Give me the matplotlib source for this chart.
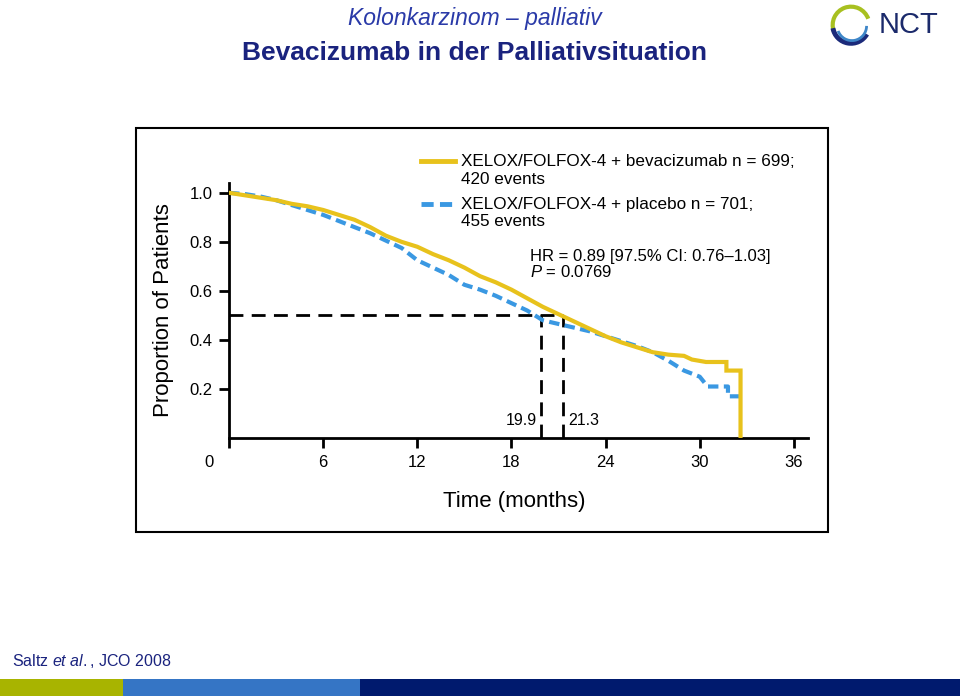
import matplotlib
matplotlib.use("Agg")
import matplotlib.pyplot as plt
from matplotlib.patches import Rectangle, Arc
from matplotlib.lines import Line2D
from matplotlib.transforms import ScaledTranslation

# Kaplan-Meier readings (months, proportion)
bev_t = [0, 1, 2, 3, 4, 5, 6, 7, 8, 9, 10, 11, 12, 13, 14, 15, 16, 17, 18, 19, 20, 21,
         22, 23, 24, 25, 26, 27, 28, 29, 29.5, 30.4, 31.7, 31.7, 32.6, 32.6]
bev_p = [1.0, 0.99, 0.98, 0.97, 0.955, 0.945, 0.93, 0.91, 0.89, 0.86, 0.825, 0.80, 0.78,
         0.75, 0.725, 0.695, 0.66, 0.635, 0.605, 0.57, 0.535, 0.505,
         0.475, 0.445, 0.415, 0.39, 0.37, 0.35, 0.34, 0.335, 0.32, 0.31, 0.31, 0.275, 0.275, 0.0]
pla_t = [0, 1, 2, 3, 4, 5, 6, 7, 8, 9, 10, 11, 12, 13, 14, 15, 16, 17, 18, 19, 20, 21,
         22, 23, 24, 25, 26, 27, 28, 29, 30, 30.5, 31.8, 31.8, 32.9]
pla_p = [1.0, 0.995, 0.985, 0.97, 0.95, 0.93, 0.91, 0.885, 0.86, 0.835, 0.805, 0.775, 0.725,
         0.695, 0.665, 0.625, 0.605, 0.58, 0.55, 0.52, 0.48, 0.465,
         0.45, 0.435, 0.415, 0.395, 0.375, 0.35, 0.315, 0.275, 0.25, 0.21, 0.21, 0.17, 0.17]
medians = [19.9, 21.3]
xticks = [0, 6, 12, 18, 24, 30, 36]
yticks = [0.2, 0.4, 0.6, 0.8, 1.0]

YELLOW = "#E8C21C"
BLUE = "#3A98E2"
NAVY = "#1A237E"

plt.rcParams["font.family"] = ["Liberation Sans", "DejaVu Sans"]
plt.rcParams["mathtext.fontset"] = "custom"
plt.rcParams["mathtext.rm"] = "Liberation Sans"
plt.rcParams["mathtext.it"] = "Liberation Sans:italic"

fig = plt.figure(figsize=(9.6, 6.96), dpi=100)
W, H = 960, 696


def fx(px):
    return px / W


def fy(py):
    return 1 - py / H


# header
fig.text(fx(475), fy(18), "Kolonkarzinom – palliativ", ha="center", va="center",
         fontsize=16.5, style="italic", color="#2A3AA8")
fig.text(fx(474), fy(53), "Bevacizumab in der Palliativsituation", ha="center", va="center",
         fontsize=19, weight="bold", color=NAVY)

# NCT logo
lax = fig.add_axes([fx(828), fy(47), fx(46), 44 / H])
lax.set_xlim(-1.2, 1.2)
lax.set_ylim(-1.2, 1.2)
lax.set_aspect("equal")
lax.axis("off")
lax.add_patch(Arc((0, 0), 2.0, 2.0, theta1=20, theta2=200, color="#A8C020", lw=3))
lax.add_patch(Arc((0, 0), 2.0, 2.0, theta1=190, theta2=330, color="#1B2A7A", lw=3.5))
lax.add_patch(Arc((0.05, -0.05), 1.6, 1.6, theta1=200, theta2=360, color="#3E86C8", lw=2))
fig.text(fx(879), fy(25), "NCT", ha="left", va="center", fontsize=21, color="#1B2A6B")

# frame around chart
fig.add_artist(Rectangle((fx(136), fy(532)), fx(828 - 136), (532 - 128) / H,
                         transform=fig.transFigure, fill=False, ec="black", lw=1.5))

ax = fig.add_axes([fx(229), fy(438), fx(808 - 229), (438 - 183) / H])
ax.set_xlim(0, 36.9)
ax.set_ylim(0, 1.04)

ax.plot([0, medians[1]], [0.5, 0.5], color="black", lw=2, dashes=(5, 3), zorder=1)
for m in medians:
    ax.plot([m, m], [0, 0.5], color="black", lw=2, dashes=(5, 3), zorder=1)

ax.plot(bev_t, bev_p, color=YELLOW, lw=3, solid_joinstyle="miter", zorder=3)
ax.plot(pla_t, pla_p, color=BLUE, lw=3, dashes=(2.5, 1.3), zorder=2)

for s in ["top", "right"]:
    ax.spines[s].set_visible(False)
for s in ["left", "bottom"]:
    ax.spines[s].set_linewidth(2)
ax.set_xticks(xticks)
ax.set_yticks(yticks)
ax.set_yticklabels([f"{v:.1f}" for v in yticks])
ax.tick_params(length=7, width=2, labelsize=12, pad=5)
lbl0 = ax.get_xticklabels()[0]
lbl0.set_transform(lbl0.get_transform() + ScaledTranslation(-0.2, 0, fig.dpi_scale_trans))

fig.text(fx(163), fy(310), "Proportion of Patients", rotation=90, ha="center", va="center",
         fontsize=16)
fig.text(fx(514), fy(501), "Time (months)", ha="center", va="center", fontsize=16)

ax.text(19.6, 0.07, "19.9", ha="right", va="center", fontsize=11.5)
ax.text(21.6, 0.07, "21.3", ha="left", va="center", fontsize=11.5)

# legend
fig.add_artist(Line2D([fx(421), fx(455)], [fy(161), fy(161)], color=YELLOW, lw=3.5))
fig.add_artist(Line2D([fx(421), fx(455)], [fy(204), fy(204)], color=BLUE, lw=3.5,
                      dashes=(2.5, 1.3)))
fs = 12.3
fig.text(fx(461), fy(161), "XELOX/FOLFOX-4 + bevacizumab n = 699;", va="center", fontsize=fs)
fig.text(fx(461), fy(180), "420 events", va="center", fontsize=fs)
fig.text(fx(461), fy(204), "XELOX/FOLFOX-4 + placebo n = 701;", va="center", fontsize=fs)
fig.text(fx(461), fy(221), "455 events", va="center", fontsize=fs)
fig.text(fx(530), fy(256), "HR = 0.89 [97.5% CI: 0.76–1.03]", va="center", fontsize=12)
fig.text(fx(530), fy(272), "$P$ = 0.0769", va="center", fontsize=12)

# footer
fig.text(fx(12), fy(661), "Saltz $et\\ al.$, JCO 2008", va="center", fontsize=11.5,
         color=NAVY)
fig.add_artist(Rectangle((0, 0), fx(123), 17 / H, transform=fig.transFigure,
                         color="#A8B400", lw=0))
fig.add_artist(Rectangle((fx(123), 0), fx(360 - 123), 17 / H, transform=fig.transFigure,
                         color="#3575C5", lw=0))
fig.add_artist(Rectangle((fx(360), 0), fx(600), 17 / H, transform=fig.transFigure,
                         color="#001A6E", lw=0))

fig.savefig("out.png", dpi=100)
